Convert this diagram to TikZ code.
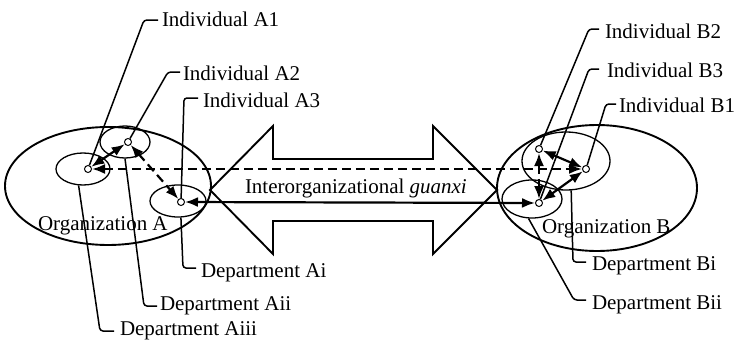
\documentclass[tikz,border=0pt]{standalone}
\usepackage{fontspec}
\setmainfont{Liberation Serif}
\usetikzlibrary{shapes.geometric,arrows.meta}
\begin{document}
\begin{tikzpicture}[x=1pt,y=-1pt,
  every node/.style={font=\fontsize{21}{25}\selectfont},
  lbl/.style={anchor=base west,inner sep=0pt,outer sep=0pt},
  org/.style={ellipse,draw,line width=1.9pt,inner sep=0pt},
  dept/.style={ellipse,draw,line width=1.3pt,inner sep=0pt},
  ind/.style={circle,draw,fill=white,line width=1pt,inner sep=0pt,minimum size=7pt},
  lead/.style={line width=1.5pt,rounded corners=3pt},
  rel/.style={line width=2.2pt,{Latex[length=13pt,width=10pt]}-{Latex[length=13pt,width=10pt]}},
  reld/.style={rel,dash pattern=on 9pt off 5pt},
  bigarrow/.style={line width=1.9pt,line join=miter},
]
\useasboundingbox (0,0) rectangle (737,340);

% organizations
\node[org,minimum width=206pt,minimum height=118pt] (oA) at (108,186) {};
\node[org,minimum width=200pt,minimum height=126pt] (oB) at (597,188) {};

% departments
\node[dept,minimum width=56pt,minimum height=32pt] (dAi) at (178,201) {};
\node[dept,minimum width=50pt,minimum height=32pt] (dAii) at (125,142) {};
\node[dept,minimum width=54pt,minimum height=32pt] (dAiii) at (83,169) {};
\node[dept,minimum width=88pt,minimum height=58pt] (dBi) at (566,161) {};
\node[dept,minimum width=60pt,minimum height=38pt] (dBii) at (532,199) {};

% big double arrow
\draw[bigarrow] (210,190) -- (273,126) -- (273,159) -- (433,159) -- (433,126)
  -- (497,190) -- (433,254) -- (433,221) -- (273,221) -- (273,254) -- cycle;
\node[lbl] (guanxi) at (245,193) {Interorganizational \textit{guanxi}};

% individuals
\node[ind] (iA1) at (88,169) {};
\node[ind] (iA2) at (128,142) {};
\node[ind] (iA3) at (181,202) {};
\node[ind] (iB1) at (586,169) {};
\node[ind] (iB2) at (539,149) {};
\node[ind] (iB3) at (539,203) {};

% relations
\draw[rel] (iA1) -- (iA2);
\draw[reld] (iA2) -- (iA3);
\draw[reld] (iA1) -- (iB1);
\draw[rel] (iA3) -- (iB3);
\draw[reld] (iB2) -- (iB3);
\draw[rel] (iB2) -- (iB1);
\draw[rel] (iB3) -- (iB1);

% organization labels
\node[lbl] (tOA) at (38,230) {Organization A};
\node[lbl] (tOB) at (542,233) {Organization B};

% individual labels
\node[lbl] (tA1) at (162,27) {Individual A1};
\node[lbl] (tA2) at (183,80) {Individual A2};
\node[lbl] (tA3) at (203,107) {Individual A3};
\node[lbl] (tB2) at (605,38) {Individual B2};
\node[lbl] (tB3) at (607,77) {Individual B3};
\node[lbl] (tB1) at (619,112) {Individual B1};

% department labels
\node[lbl] (tDAi) at (201,277) {Department Ai};
\node[lbl] (tDAii) at (160,310) {Department Aii};
\node[lbl] (tDAiii) at (120,335) {Department Aiii};
\node[lbl] (tDBi) at (592,270) {Department Bi};
\node[lbl] (tDBii) at (592,309) {Department Bii};

% leaders
\draw[lead] ([xshift=-4pt,yshift=7pt]tA1.base west) -- ++(-14,0) -- (iA1);
\draw[lead] ([xshift=-3pt,yshift=8pt]tA2.base west) -- ++(-12,0) -- (iA2);
\draw[lead] ([xshift=-5pt,yshift=9pt]tA3.base west) -- ++(-14,0) -- (iA3);
\draw[lead] ([xshift=-6pt,yshift=9pt]tB2.base west) -- ++(-10,0) -- (iB2);
\draw[lead] ([xshift=-8pt,yshift=8pt]tB3.base west) -- ++(-10,0) -- (iB3);
\draw[lead] ([xshift=-3pt,yshift=8pt]tB1.base west) -- ++(-10,0) -- (iB1);
\draw[lead] ([xshift=-5pt,yshift=9pt]tDAi.base west) -- ++(-13,0) -- (dAi.-80);
\draw[lead] ([xshift=-3pt,yshift=4pt]tDAii.base west) -- ++(-13,0) -- (dAii.south);
\draw[lead] ([xshift=-6pt,yshift=4pt]tDAiii.base west) -- ++(-14,0) -- (dAiii.-105);
\draw[lead] ([xshift=-6pt,yshift=8pt]tDBi.base west) -- ++(-13,0) -- (dBi.-80);
\draw[lead] ([xshift=-6pt,yshift=9pt]tDBii.base west) -- ++(-12,0) -- (dBii.-100);
\end{tikzpicture}
\end{document}
